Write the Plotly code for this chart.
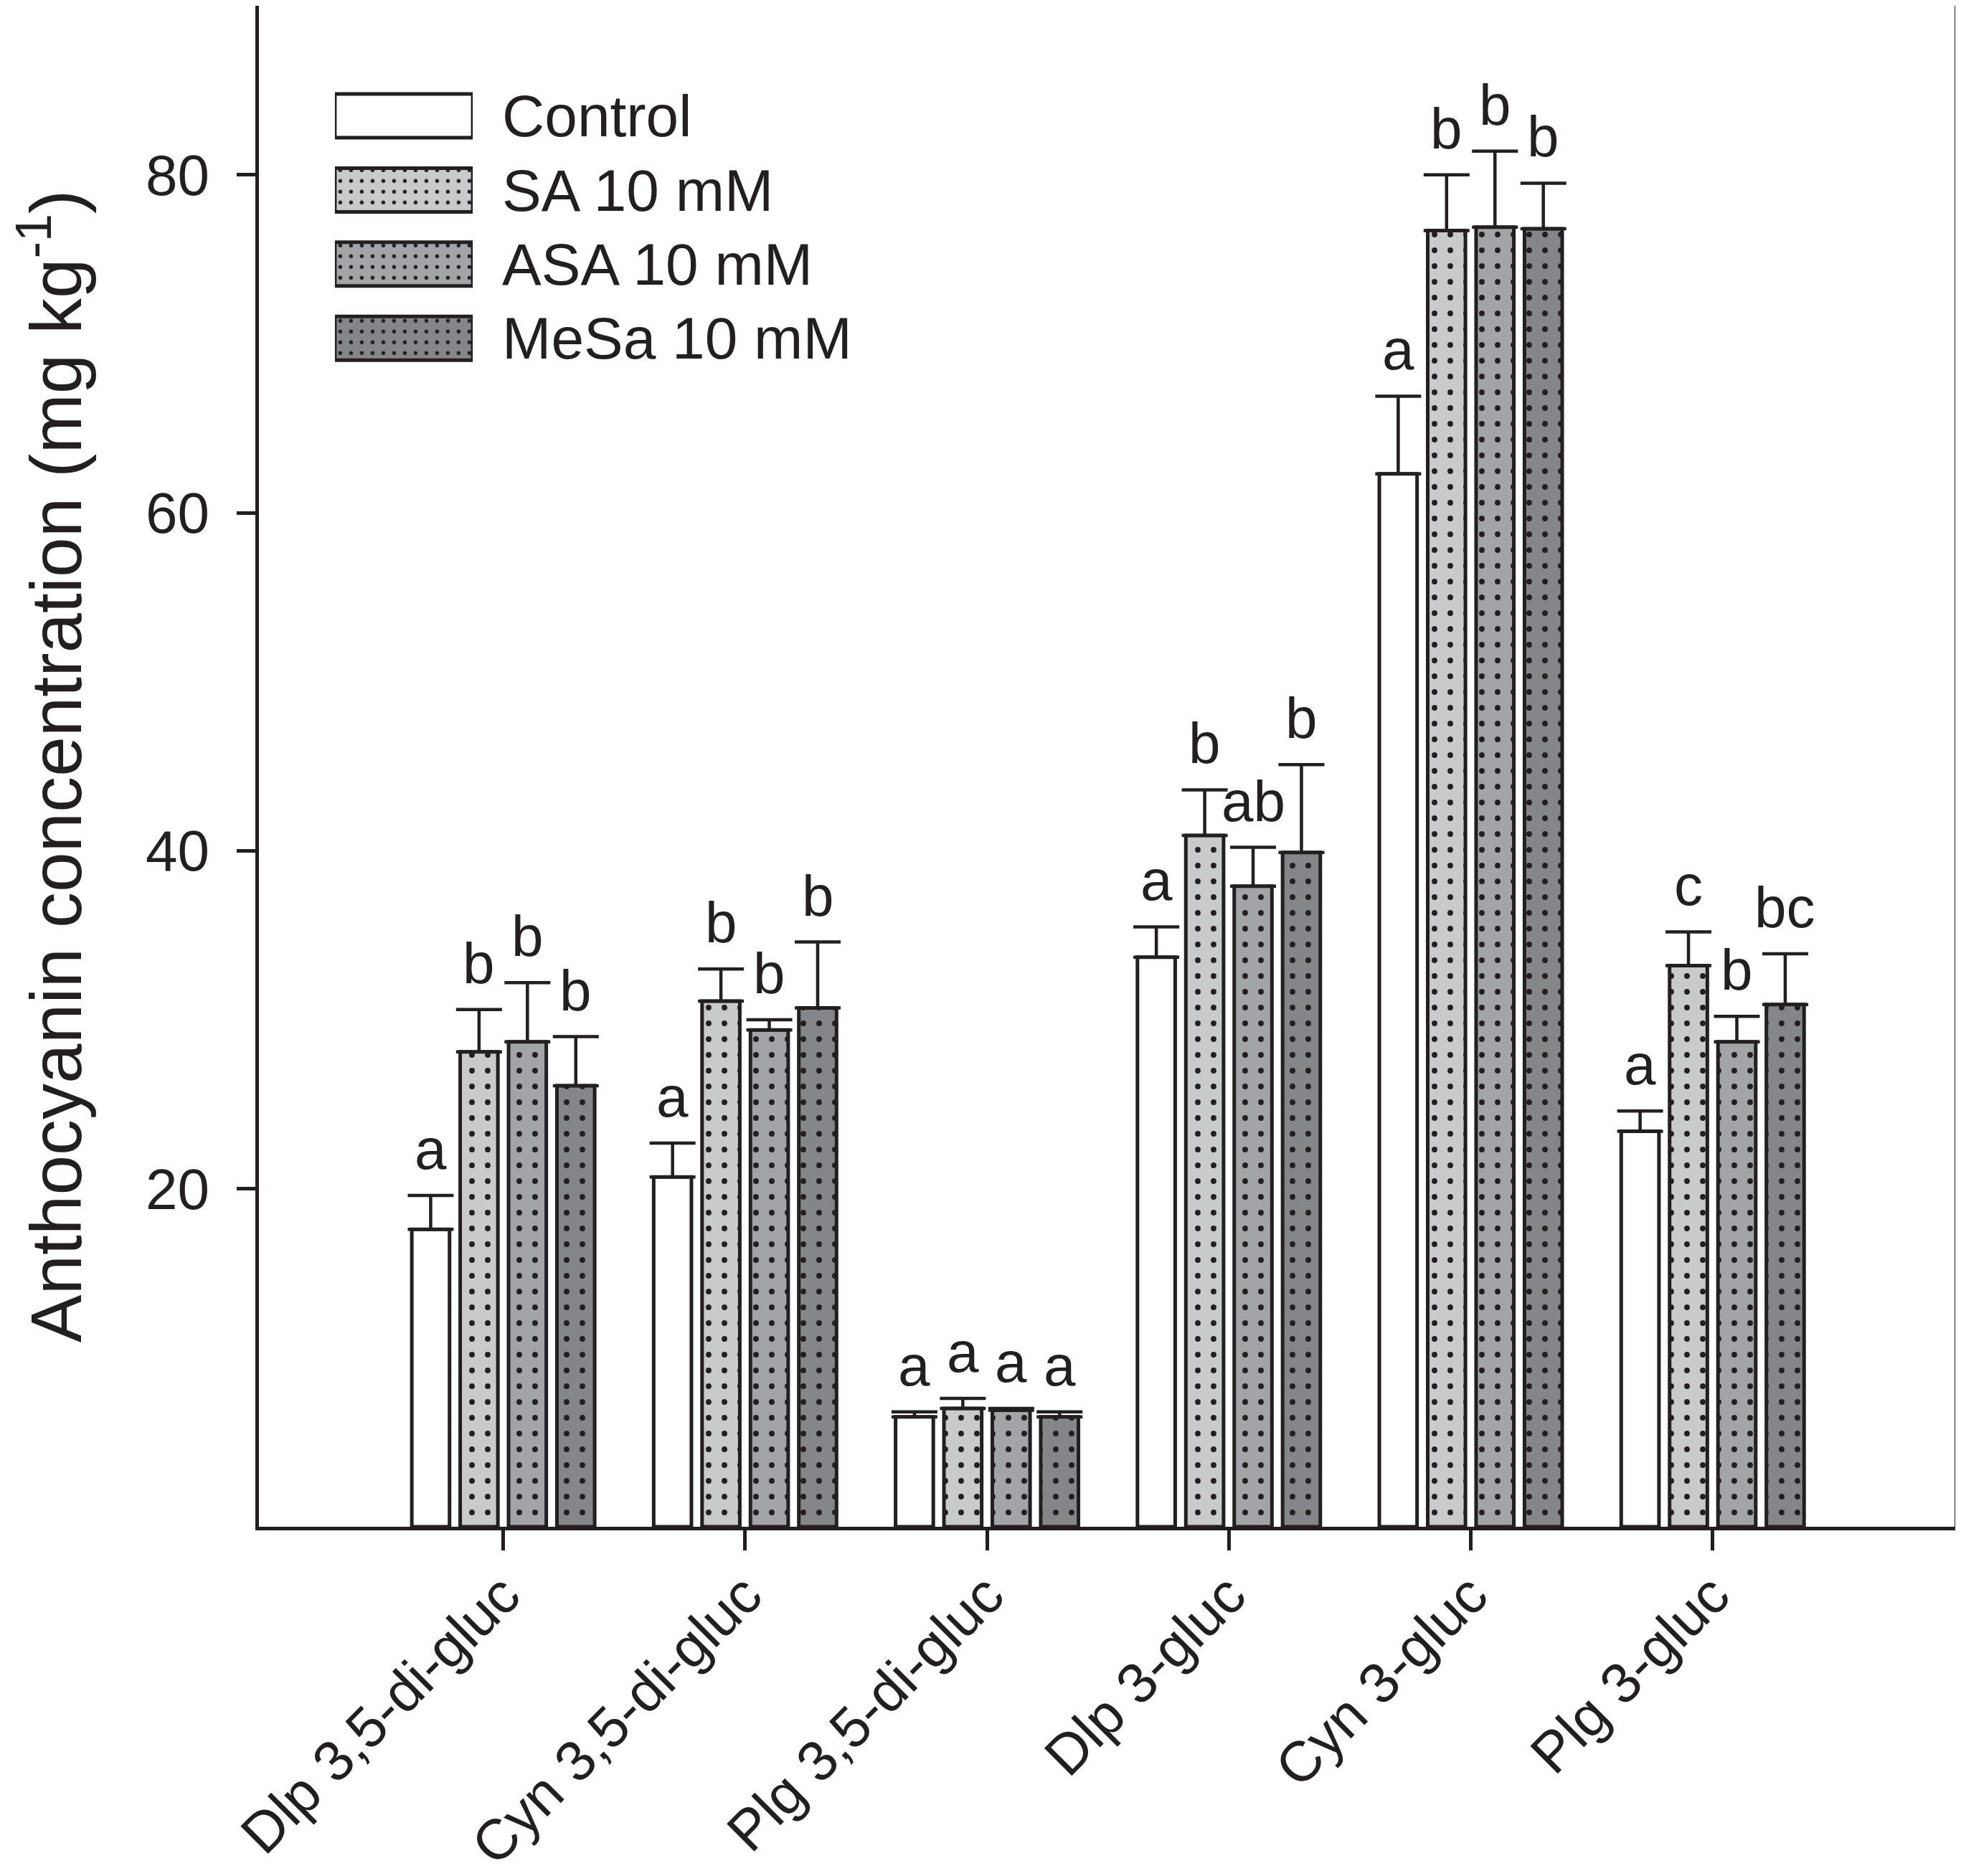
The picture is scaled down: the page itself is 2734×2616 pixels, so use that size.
import plotly.graph_objects as go

categories = ['Dlp 3,5-di-gluc', 'Cyn 3,5-di-gluc', 'Plg 3,5-di-gluc',
              'Dlp 3-gluc', 'Cyn 3-gluc', 'Plg 3-gluc']
treatments = ['Control', 'SA 10 mM', 'ASA 10 mM', 'MeSa 10 mM']

# means (mg kg-1)
control = [17.6, 20.7, 6.5, 33.7, 62.3, 23.4]
sa = [28.1, 31.1, 7.0, 40.9, 76.7, 33.2]
asa = [28.7, 29.4, 6.9, 37.9, 76.9, 28.7]
mesa = [26.1, 30.7, 6.5, 39.9, 76.8, 30.9]

# upper error bars
control_err = [2.0, 2.0, 0.3, 1.8, 4.6, 1.2]
sa_err = [2.5, 1.9, 0.6, 2.7, 3.3, 2.0]
asa_err = [3.5, 0.6, 0.1, 2.3, 4.5, 1.5]
mesa_err = [2.9, 3.9, 0.3, 5.2, 2.7, 3.0]

# significance letters
control_letters = ['a', 'a', 'a', 'a', 'a', 'a']
sa_letters = ['b', 'b', 'a', 'b', 'b', 'c']
asa_letters = ['b', 'b', 'a', 'ab', 'b', 'b']
mesa_letters = ['b', 'b', 'a', 'b', 'b', 'bc']

ytick_vals = [20, 40, 60, 80]

means = [control, sa, asa, mesa]
errs = [control_err, sa_err, asa_err, mesa_err]
letters = [control_letters, sa_letters, asa_letters, mesa_letters]
fills = ['#ffffff', '#c9cacc', '#a2a4a7', '#848689']
dotted = [False, True, True, True]

INK = '#231f20'
FONT = 'Liberation Sans, Arial, sans-serif'
BARGAP = 0.2

x_idx = list(range(len(categories)))


def marker_for(i, dot_size):
    m = dict(color=fills[i], line=dict(color=INK, width=5))
    if dotted[i]:
        m['pattern'] = dict(shape='.', fgcolor=INK, bgcolor=fills[i],
                            size=dot_size, solidity=0.1, fillmode='replace')
    return m


fig = go.Figure()

# main grouped bars
for i, name in enumerate(treatments):
    fig.add_trace(go.Bar(
        x=x_idx, y=means[i], name=name, showlegend=False,
        marker=marker_for(i, 22),
        error_y=dict(type='data', array=errs[i], arrayminus=[0] * len(categories),
                     symmetric=False, color=INK, thickness=4.5, width=32),
    ))

# legend drawn as a small bar panel so the boxes keep the fill patterns
for i, name in enumerate(treatments):
    fig.add_trace(go.Bar(
        x=[1], y=[name], orientation='h', showlegend=False,
        xaxis='x2', yaxis='y2', width=0.59,
        marker=marker_for(i, 15),
    ))

# letters above the error bars
slot = (1 - BARGAP) / len(treatments)
annotations = []
for i in range(len(treatments)):
    off = (i - (len(treatments) - 1) / 2) * slot
    for j in x_idx:
        annotations.append(dict(
            x=j + off, y=means[i][j] + errs[i][j], xref='x', yref='y',
            text=letters[i][j], showarrow=False, yanchor='bottom', yshift=18,
            font=dict(family=FONT, size=80, color=INK),
        ))

fig.update_layout(
    width=2734,
    height=2616,
    margin=dict(l=353, r=17, t=0, b=495),
    paper_bgcolor='white',
    plot_bgcolor='white',
    barmode='group',
    bargap=BARGAP,
    bargroupgap=0.22,
    font=dict(family=FONT, color=INK),
    annotations=annotations,
    xaxis=dict(
        range=[-1.01, 6.0], tickvals=x_idx, ticktext=categories,
        tickangle=-45, tickfont=dict(size=79),
        ticks='outside', ticklen=28, tickwidth=5, tickcolor=INK,
        ticklabelstandoff=-16,
        showline=True, linecolor=INK, linewidth=5, mirror=True,
        showgrid=False, zeroline=False, automargin=False,
    ),
    yaxis=dict(
        range=[0, 90], tickvals=ytick_vals, tickfont=dict(size=80),
        ticks='outside', ticklen=26, tickwidth=5, tickcolor=INK,
        ticklabelstandoff=22,
        showline=True, linecolor=INK, linewidth=5, mirror=True,
        showgrid=False, zeroline=False, automargin=False,
        title=dict(text='Anthocyanin concentration (mg kg<sup>-1</sup>)',
                   font=dict(size=100), standoff=70),
    ),
    xaxis2=dict(domain=[0.0448, 0.1261], anchor='y2', range=[0, 1],
                visible=False, fixedrange=True),
    yaxis2=dict(domain=[0.757, 0.952], anchor='x2', side='right',
                categoryorder='array', categoryarray=treatments,
                autorange='reversed', showline=False, showgrid=False,
                zeroline=False, ticks='', ticklabelstandoff=40,
                tickfont=dict(size=82), fixedrange=True, automargin=False),
)

fig.write_html("out.html")
